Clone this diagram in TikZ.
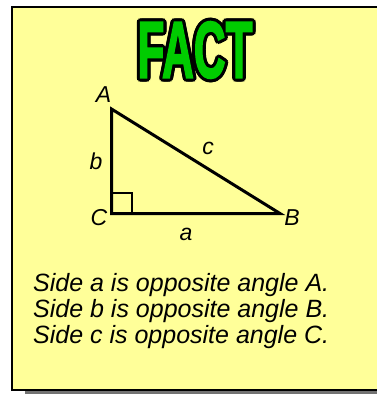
\documentclass[tikz,border=0pt]{standalone}
\usepackage{fontspec}
\setmainfont{Liberation Sans}
\newfontfamily\titlefont[BoldFeatures={FakeBold=2.5}]{Liberation Sans}
\usepackage{xcolor}
\usepackage{tikz}
\usetikzlibrary{positioning,calc}
\definecolor{notepad}{HTML}{FFFF99}
\definecolor{factgreen}{HTML}{00CC00}
\tikzset{
  label_text/.style={
    font=\itshape\fontsize{23}{27}\selectfont,
    text=black,
    inner sep=0pt
  },
  side/.style={
    draw=black,
    line width=3pt,
    line join=miter
  }
}

\begin{document}
\begin{tikzpicture}[
  x=1pt, y=-1pt,
  card/.style={draw=black, line width=2pt, fill=notepad},
  card_shadow/.style={fill=black!55, draw=none},
  fact_outline/.style={text=black, font=\titlefont\bfseries\fontsize{80}{80}\selectfont, xscale=0.55, inner sep=0pt},
  fact_fill/.style={text=factgreen, font=\titlefont\bfseries\fontsize{80}{80}\selectfont, xscale=0.55, inner sep=0pt},
  corner/.style={draw=black, line width=1.6pt},
  note_text/.style={font=\itshape\fontsize{25}{26}\selectfont, align=left, inner sep=0pt, anchor=north west}
]
\useasboundingbox (0,0) rectangle (377,394);

% Card and shadow
\fill[card_shadow] (25,12) rectangle (392,394);
\draw[card] (12,7) rectangle (384,390);

% Title
\foreach \ang in {0,30,...,330}
  \node[fact_outline] (out\ang) at ($(195,50)+(\ang:3.2)$) {FACT};
\node[fact_fill] (title) at (195,50) {FACT};

% Triangle corners
\coordinate (ptA) at (111.5,109);
\coordinate (ptC) at (111.5,213.5);
\coordinate (ptB) at (280,213.5);

% Triangle and right angle mark
\draw[corner] (ptC) rectangle (132,193);
\draw[side] (ptA) -- (ptB) -- (ptC) -- cycle;

% Vertex and side labels
\node[label_text] (lblA) at (103.5,95) {A};
\node[label_text] (lblB) at (292,218) {B};
\node[label_text] (lblC) at (99,218) {C};
\node[label_text] (lbla) at (186,234) {a};
\node[label_text] (lblb) at (96,161) {b};
\node[label_text] (lblc) at (208,148) {c};

% Statements
\node[note_text] (notes) at (33,273) {Side a is opposite angle A.\\Side b is opposite angle B.\\Side c is opposite angle C.};

\end{tikzpicture}
\end{document}
